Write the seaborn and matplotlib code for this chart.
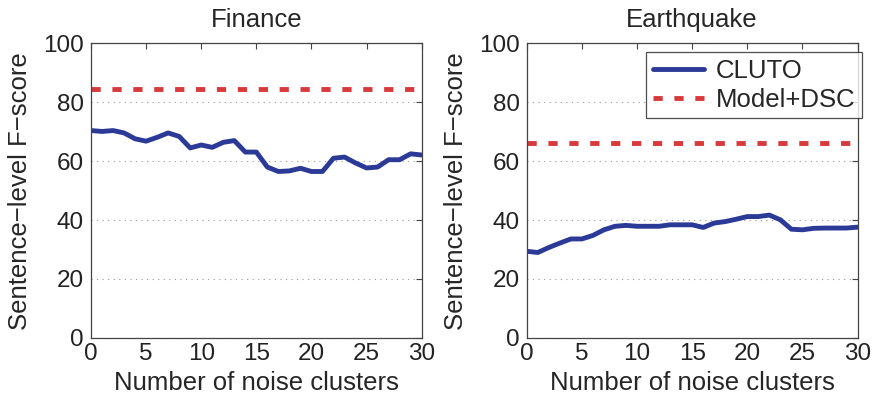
"""Sentence-level F-score vs. number of noise clusters: CLUTO against Model+DSC."""
import matplotlib
matplotlib.use("Agg")
import matplotlib.pyplot as plt
import pandas as pd
import seaborn as sns

noise_clusters = list(range(31))

finance_cluto = [70.4, 70.1, 70.4, 69.6, 67.6, 66.8, 68.1, 69.6, 68.4, 64.5,
                 65.5, 64.7, 66.4, 67.0, 63.1, 63.1, 58.0, 56.5, 56.7, 57.6,
                 56.5, 56.5, 61.0, 61.4, 59.4, 57.7, 58.0, 60.5, 60.5, 62.5, 62.1]
finance_dsc = 84.4

quake_cluto = [29.4, 29.0, 30.7, 32.2, 33.6, 33.6, 34.8, 36.7, 37.9, 38.2,
               37.9, 37.9, 37.9, 38.4, 38.4, 38.4, 37.5, 39.0, 39.5, 40.3,
               41.2, 41.2, 41.7, 40.1, 36.9, 36.7, 37.2, 37.3, 37.3, 37.3, 37.6]
quake_dsc = 66.1

panel_titles = ["Finance", "Earthquake"]

BLUE = "#2b3a96"
RED = "#d8393a"
FS = 18.5

sns.set_style("white")
plt.rcParams["font.family"] = ["Liberation Sans", "DejaVu Sans"]
plt.rcParams["font.size"] = FS

fig, axes = plt.subplots(1, 2, figsize=(8.75, 3.98), dpi=100)
fig.subplots_adjust(left=0.104, right=0.98, top=0.891, bottom=0.151, wspace=0.318)

panels = [(finance_cluto, finance_dsc), (quake_cluto, quake_dsc)]
for i, (ax, (cluto, dsc)) in enumerate(zip(axes, panels)):
    df = pd.DataFrame({"clusters": noise_clusters, "fscore": cluto})
    sns.lineplot(data=df, x="clusters", y="fscore", ax=ax, color=BLUE, lw=3.5, label="CLUTO")
    ax.axhline(dsc, color=RED, lw=3.5, ls=(0, (1.9, 2.4)), label="Model+DSC")

    ax.set_xlim(0, 30)
    ax.set_ylim(0, 100)
    ax.set_xticks(range(0, 31, 5))
    ax.set_yticks(range(0, 101, 20))
    ax.yaxis.grid(True, ls=(0, (1, 4)), color="#999999", lw=0.8)
    ax.xaxis.grid(False)
    ax.tick_params(direction="in", top=True, right=True, length=4, width=0.8,
                   colors="#444444", labelcolor="#222222", labelsize=17.5)
    ax.tick_params(axis="x", pad=4)
    ax.tick_params(axis="y", pad=5)
    for s in ax.spines.values():
        s.set_color("#444444")
        s.set_linewidth(0.9)
    ax.set_title(panel_titles[i], fontsize=FS, pad=12)
    ax.set_xlabel("Number of noise clusters", fontsize=FS, labelpad=4)
    ax.set_ylabel("Sentence\u2212level F\u2212score", fontsize=FS, labelpad=8)

    if i == 1:
        leg = ax.legend(loc="upper right", bbox_to_anchor=(1.013, 0.97), borderaxespad=0,
                        fontsize=FS, frameon=True, fancybox=False,
                        handlelength=2.0, handletextpad=0.45, borderpad=0.25,
                        labelspacing=0.2)
        leg.get_frame().set_edgecolor("#222222")
        leg.get_frame().set_linewidth(0.9)
    else:
        ax.get_legend().remove()

fig.savefig("out.png", dpi=100)
